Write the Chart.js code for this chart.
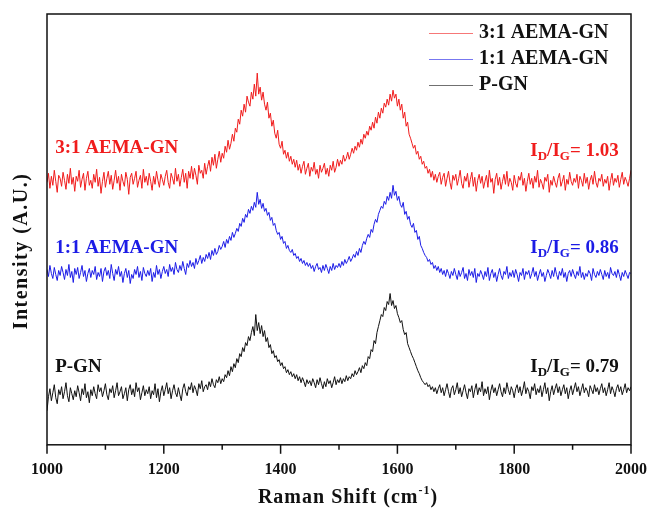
<!DOCTYPE html>
<html>
<head>
<meta charset="utf-8">
<script src="https://cdn.jsdelivr.net/npm/chart.js@4.4.1/dist/chart.umd.min.js"></script>
<style>
  html, body { margin: 0; padding: 0; background: #fff; }
  #wrap { width: 649px; height: 510px; }
</style>
</head>
<body>
<div id="wrap"><canvas id="raman" width="649" height="510"></canvas></div>
<script>
// Raman shift grid, cm^-1, sampled every 2.5 cm^-1
const shifts = Array.from({ length: 401 }, (_, i) => 1000 + 2.5 * i);

const seriesNames = ["3:1 AEMA-GN", "1:1 AEMA-GN", "P-GN"];
const ratioValues = ["1.03", "0.86", "0.79"];
const lineColors = ["#f01c1c", "#1c1ce6", "#111111"];

// stacked intensities (a.u., each sample offset), one row per 25 cm^-1
const aema31 = [
  262, 271, 256, 268, 259, 274, 263, 252, 269, 266,
  258, 272, 264, 255, 270, 261, 276, 260, 267, 253,
  268, 263, 274, 257, 265, 271, 254, 266, 273, 259,
  264, 256, 270, 262, 275, 258, 267, 251, 263, 272,
  257, 266, 273, 260, 269, 255, 264, 274, 261, 268,
  254, 270, 263, 258, 272, 265, 250, 267, 271, 260,
  266, 273, 257, 264, 269, 256, 275, 262, 268, 259,
  271, 263, 254, 268, 260, 273, 264, 257, 270, 265,
  259, 268, 274, 262, 256, 271, 266, 260, 276, 263,
  270, 258, 267, 275, 262, 271, 256, 273, 266, 278,
  265, 276, 269, 260, 279, 271, 274, 266, 281, 270,
  278, 284, 273, 287, 279, 290, 276, 285, 293, 282,
  291, 286, 298, 292, 304, 295, 301, 310, 303, 316,
  312, 325, 320, 334, 328, 340, 332, 348, 342, 338,
  352, 345, 360, 348, 371, 350, 357, 344, 352, 340,
  334, 342, 326, 331, 318, 324, 311, 306, 314, 300,
  296, 303, 290, 294, 286, 292, 283, 288, 280, 285,
  277, 284, 274, 280, 271, 278, 283, 270, 276, 281,
  268, 277, 273, 282, 270, 275, 266, 279, 272, 276,
  281, 270, 276, 268, 279, 274, 283, 272, 277, 285,
  278, 284, 280, 289, 283, 286, 292, 285, 290, 296,
  291, 298, 294, 302, 297, 305, 300, 310, 306, 313,
  309, 318, 314, 322, 316, 327, 321, 332, 326, 336,
  331, 341, 337, 345, 339, 350, 343, 354, 346, 350,
  338, 345, 334, 340, 326, 332, 318, 322, 310, 306,
  301, 296, 299, 290, 293, 285, 288, 280, 283, 276,
  278, 271, 275, 267, 273, 264, 270, 262, 268, 272,
  260, 267, 271, 258, 266, 273, 262, 255, 269, 264,
  270, 259, 266, 274, 261, 256, 268, 263, 271, 257,
  265, 272, 258, 267, 253, 264, 270, 261, 268, 256,
  263, 269, 257, 274, 262, 266, 251, 265, 271, 259,
  267, 255, 263, 270, 260, 273, 258, 266, 262, 254,
  269, 261, 257, 268, 264, 272, 259, 266, 253, 263,
  271, 260, 266, 256, 268, 262, 274, 257, 265, 261,
  255, 267, 263, 270, 252, 264, 259, 268, 262, 257,
  266, 271, 258, 263, 269, 254, 265, 260, 272, 263,
  259, 266, 262, 270, 256, 268, 264, 258, 271, 261,
  267, 255, 264, 269, 260, 273, 262, 257, 266, 263,
  270, 258, 265, 261, 268, 254, 264, 271, 259, 266,
  262, 269, 257, 265, 272, 260, 267, 263, 258, 266,
  274
];
const aema11 = [
  175, 168, 179, 171, 166, 177, 170, 164, 174, 169,
  178, 172, 165, 175, 169, 180, 167, 173, 162, 176,
  170, 177, 166, 172, 179, 168, 174, 163, 171, 176,
  167, 174, 170, 178, 165, 172, 168, 176, 163, 173,
  177, 169, 174, 166, 180, 171, 164, 175, 170, 178,
  168, 173, 162, 171, 176, 167, 174, 161, 170, 166,
  175, 170, 178, 167, 173, 164, 177, 171, 168, 174,
  169, 176, 163, 172, 167, 179, 170, 175, 166, 173,
  178, 171, 175, 168, 180, 173, 177, 170, 182, 175,
  172, 179, 174, 183, 176, 170, 181, 177, 184, 178,
  182, 176, 186, 180, 184, 189, 181, 187, 183, 190,
  186, 192, 185, 194, 189, 196, 190, 193, 199, 195,
  198, 203, 197, 205, 201, 208, 204, 212, 207, 211,
  216, 213, 221, 218, 226, 222, 230, 227, 235, 231,
  238, 234, 242, 237, 252, 240, 245, 236, 241, 233,
  236, 229, 232, 224, 227, 219, 221, 214, 210, 212,
  205, 208, 201, 203, 196, 199, 194, 192, 195, 189,
  191, 186, 188, 183, 186, 181, 184, 179, 182, 178,
  181, 176, 179, 173, 178, 181, 175, 177, 172, 179,
  174, 180, 176, 171, 178, 174, 181, 175, 179, 177,
  181, 177, 183, 179, 185, 181, 184, 188, 183, 186,
  190, 187, 193, 189, 196, 192, 199, 203, 200, 206,
  210, 207, 215, 212, 220, 225, 222, 230, 234, 238,
  236, 243, 240, 248, 244, 252, 246, 259, 249, 253,
  244, 248, 240, 237, 242, 230, 233, 225, 228, 220,
  217, 221, 212, 214, 205, 208, 199, 196, 192, 189,
  187, 183, 185, 180, 182, 176, 179, 174, 178, 172,
  176, 170, 174, 168, 175, 171, 166, 173, 169, 176,
  170, 165, 174, 168, 172, 177, 166, 171, 164, 175,
  169, 173, 167, 176, 162, 171, 168, 174, 170, 165,
  173, 168, 177, 164, 171, 175, 167, 172, 163, 170,
  176, 169, 165, 173, 170, 178, 166, 172, 168, 174,
  167, 175, 170, 163, 172, 169, 176, 165, 173, 170,
  174, 166, 171, 177, 168, 173, 164, 170, 175, 168,
  172, 163, 169, 175, 171, 166, 174, 168, 177, 170,
  165, 173, 169, 176, 167, 172, 163, 171, 174, 168,
  175, 170, 166, 173, 169, 178, 167, 172, 165, 171,
  168, 174, 171, 164, 176, 170, 167, 173, 169, 175,
  170, 165, 174, 168, 172, 166, 177, 171, 169, 173,
  167, 175, 170, 164, 172, 168, 174, 170, 166, 172,
  171
];
const pgn = [
  34, 48, 56, 44, 52, 60, 47, 41, 55, 50,
  58, 46, 53, 62, 49, 43, 57, 51, 45, 54,
  48, 59, 52, 44, 56, 50, 61, 47, 53, 42,
  55, 49, 58, 51, 46, 60, 53, 57, 48, 54,
  61, 50, 45, 56, 52, 59, 47, 54, 62, 49,
  53, 58, 46, 51, 57, 44, 55, 60, 50, 56,
  48, 62, 53, 57, 45, 52, 59, 49, 55, 51,
  58, 46, 54, 50, 61, 47, 56, 43, 53, 59,
  49, 55, 62, 51, 57, 46, 54, 60, 52, 48,
  57, 50, 44, 56, 61, 53, 49, 58, 55, 62,
  52, 59, 55, 49, 61, 56, 64, 53, 58, 60,
  55, 63, 58, 66, 60, 57, 65, 62, 68, 61,
  66, 63, 70, 67, 74, 69, 78, 73, 81, 77,
  86, 82, 91, 88, 97, 93, 102, 99, 108, 104,
  112, 118, 109, 130, 114, 122, 111, 119, 108, 114,
  103, 107, 97, 100, 91, 94, 87, 89, 83, 85,
  79, 82, 76, 78, 72, 75, 70, 73, 68, 71,
  66, 70, 64, 68, 62, 67, 63, 58, 65, 61,
  64, 59, 66, 62, 57, 65, 60, 67, 61, 56,
  63, 58, 66, 61, 64, 57, 62, 68, 60, 65,
  62, 67, 61, 66, 63, 69, 64, 68, 66, 71,
  68, 74, 70, 73, 77, 72, 79, 76, 82, 79,
  88, 86, 95, 93, 104, 101, 112, 118, 124, 130,
  128, 137, 134, 143, 140, 151, 139, 144, 136, 139,
  131, 127, 122, 124, 115, 110, 112, 101, 97, 93,
  89, 86, 82, 78, 74, 71, 67, 64, 62, 60,
  62, 58, 60, 55, 58, 53, 57, 51, 56, 60,
  52, 57, 49, 55, 61, 53, 47, 56, 59, 50,
  55, 62, 51, 57, 48, 54, 60, 52, 46, 56,
  53, 59, 47, 55, 61, 50, 57, 53, 63, 49,
  56, 51, 58, 45, 54, 60, 52, 57, 49, 55,
  61, 53, 48, 57, 51, 62, 55, 50, 58, 54,
  47, 56, 60, 52, 58, 49, 55, 63, 51, 57,
  53, 46, 58, 54, 61, 50, 56, 52, 59, 48,
  55, 62, 51, 57, 44, 53, 59, 50, 56, 61,
  52, 58, 49, 55, 60, 51, 57, 46, 54, 59,
  50, 56, 62, 53, 58, 49, 55, 61, 52, 57,
  54, 48, 59, 55, 51, 60, 53, 57, 50, 56,
  61, 52, 57, 49, 55, 62, 51, 58, 54, 48,
  56, 60, 53, 58, 50, 55, 61, 52, 57, 54,
  58
];
const series = [aema31, aema11, pgn];

const serif = '"Liberation Serif", "Times New Roman", serif';

// I_D/I_G with subscripts, right aligned at `right`
function drawRatio(ctx, right, base, value) {
  const big = "bold 19px " + serif;
  const small = "bold 13px " + serif;
  const parts = [["I", big, 0], ["D", small, 4], ["/I", big, 0], ["G", small, 4], ["= " + value, big, 0]];
  let w = 0;
  parts.forEach(p => { ctx.font = p[1]; w += ctx.measureText(p[0]).width; });
  let cx = right - w;
  parts.forEach(p => {
    ctx.font = p[1];
    ctx.fillText(p[0], cx, base + p[2]);
    cx += ctx.measureText(p[0]).width;
  });
}

const decorations = {
  id: "decorations",
  afterDraw(chart) {
    const { ctx, chartArea: a, scales: { x, y } } = chart;
    ctx.save();

    // frame + outward ticks
    ctx.strokeStyle = "#111";
    ctx.lineWidth = 1.5;
    ctx.strokeRect(a.left, a.top, a.right - a.left, a.bottom - a.top);
    x.ticks.forEach(t => {
      const px = x.getPixelForValue(t.value);
      const len = t.value % 200 === 0 ? 9 : 5;
      ctx.beginPath();
      ctx.moveTo(px, a.bottom);
      ctx.lineTo(px, a.bottom + len);
      ctx.stroke();
    });

    // sample names on the left, ratios on the right
    const rows = [[291, 288], [191, 191], [73, 73]];
    ctx.textBaseline = "alphabetic";
    chart.data.datasets.forEach((ds, k) => {
      ctx.fillStyle = ds.borderColor;
      ctx.font = "bold 19px " + serif;
      ctx.textAlign = "left";
      ctx.fillText(ds.label, x.getPixelForValue(1014), y.getPixelForValue(rows[k][0]));
      drawRatio(ctx, x.getPixelForValue(1979), y.getPixelForValue(rows[k][1]), ratioValues[k]);
    });

    // legend
    ctx.textBaseline = "middle";
    ctx.font = "bold 20px " + serif;
    chart.data.datasets.forEach((ds, k) => {
      const ly = 33 + k * 26;
      ctx.strokeStyle = ds.borderColor;
      ctx.globalAlpha = 0.6;
      ctx.lineWidth = 1;
      ctx.beginPath();
      ctx.moveTo(429, ly + 0.5);
      ctx.lineTo(473, ly + 0.5);
      ctx.stroke();
      ctx.globalAlpha = 1;
      ctx.fillStyle = "#111";
      ctx.fillText(ds.label, 479, ly);
    });

    // axis titles
    ctx.fillStyle = "#111";
    ctx.letterSpacing = "1px";
    const main = "Raman Shift (cm";
    ctx.font = "bold 20px " + serif;
    const wMain = ctx.measureText(main).width;
    const wClose = ctx.measureText(")").width;
    ctx.font = "bold 12px " + serif;
    const wSup = ctx.measureText("-1").width;
    let tx = 348 - (wMain + wSup + wClose) / 2;
    ctx.textBaseline = "alphabetic";
    ctx.font = "bold 20px " + serif;
    ctx.fillText(main, tx, 503);
    tx += wMain;
    ctx.font = "bold 12px " + serif;
    ctx.fillText("-1", tx, 494);
    tx += wSup;
    ctx.font = "bold 20px " + serif;
    ctx.fillText(")", tx, 503);

    ctx.letterSpacing = "1.5px";
    ctx.translate(22, 251);
    ctx.rotate(-Math.PI / 2);
    ctx.textAlign = "center";
    ctx.textBaseline = "middle";
    ctx.fillText("Intensity (A.U.)", 0, 0);
    ctx.restore();
  }
};

new Chart(document.getElementById("raman"), {
  type: "line",
  data: {
    datasets: seriesNames.map((name, k) => ({
      label: name,
      data: series[k].map((v, i) => ({ x: shifts[i], y: v })),
      borderColor: lineColors[k],
      borderWidth: 1,
      pointRadius: 0,
      tension: 0,
    })),
  },
  options: {
    responsive: false,
    animation: false,
    layout: { padding: { left: 47, right: 18, top: 14, bottom: 16 } },
    plugins: { legend: { display: false }, tooltip: { enabled: false } },
    scales: {
      x: {
        type: "linear",
        min: 1000,
        max: 2000,
        grid: { display: false, drawTicks: false },
        border: { display: false },
        // end labels may hang past the frame
        afterFit: scale => { scale.paddingLeft = 0; scale.paddingRight = 0; },
        ticks: {
          stepSize: 100,
          padding: 15,
          color: "#111",
          font: { family: serif, size: 16, weight: "bold" },
          callback: v => (v % 200 === 0 ? v : ""),
        },
      },
      y: { display: false, min: 0, max: 430 },
    },
  },
  plugins: [decorations],
});
</script>
</body>
</html>
